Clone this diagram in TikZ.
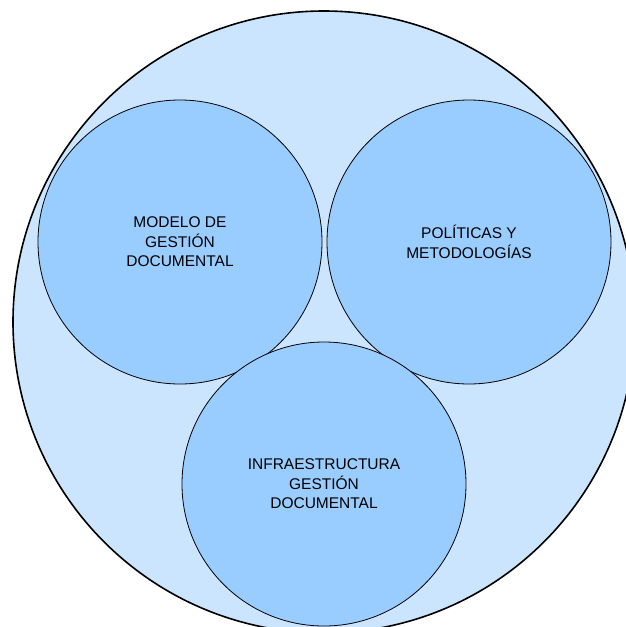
\documentclass[tikz,border=0pt]{standalone}
\usepackage{fontspec}
\setmainfont{Liberation Sans}
\usepackage{tikz}
\usetikzlibrary{positioning}
\definecolor{outerblue}{HTML}{CCE5FF}
\definecolor{innerblue}{HTML}{99CCFF}

\begin{document}
\begin{tikzpicture}[x=1pt,y=-1pt,
  inner/.style={draw, circle, fill=innerblue, line width=0.8pt, minimum size=284pt, inner sep=0pt,
    align=center, font=\fontsize{15.5}{19.5}\selectfont},
  outer/.style={draw, circle, fill=outerblue, line width=1.6pt, minimum size=622pt, inner sep=0pt}]
  \useasboundingbox (0,0) rectangle (625,627);
  \node[outer] (all) at (324,322) {};

  \node[inner] (modelo) at (180,242) {MODELO DE\\GESTIÓN\\DOCUMENTAL};
  \node[inner] (politicas) at (469,242) {POLÍTICAS Y\\METODOLOGÍAS};
  \node[inner] (infra) at (324,484) {INFRAESTRUCTURA\\GESTIÓN\\DOCUMENTAL};
\end{tikzpicture}
\end{document}
